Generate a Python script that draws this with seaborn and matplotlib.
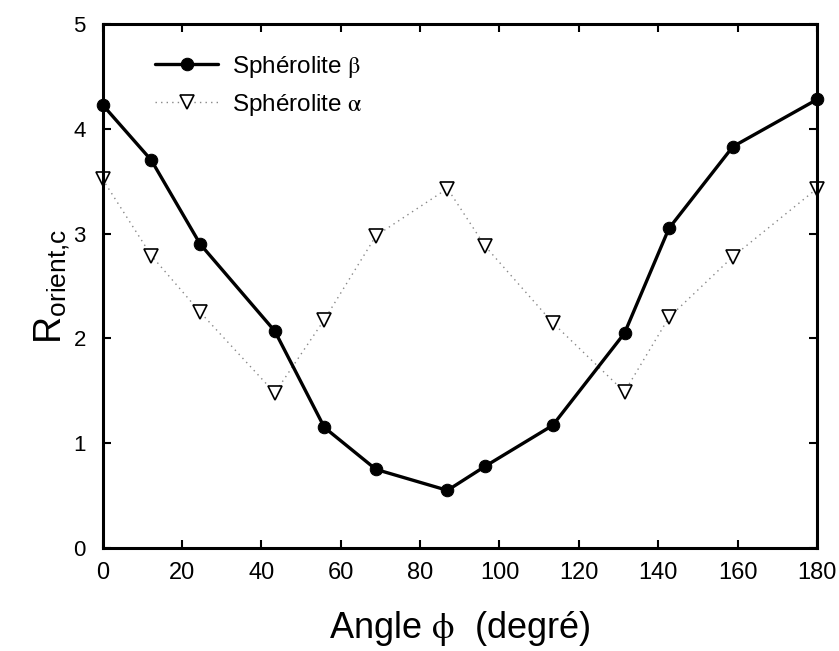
import matplotlib
matplotlib.use("Agg")
import matplotlib.pyplot as plt
import seaborn as sns
import pandas as pd

angles = [0, 12.3, 24.6, 43.4, 55.9, 68.9, 86.9, 96.4, 113.4, 131.5, 142.7, 158.8, 180]
beta_vals = [4.23, 3.70, 2.90, 2.07, 1.15, 0.75, 0.55, 0.78, 1.17, 2.05, 3.05, 3.83, 4.28]
alpha_vals = [3.52, 2.79, 2.25, 1.48, 2.18, 2.98, 3.43, 2.88, 2.15, 1.49, 2.20, 2.78, 3.43]
series_names = [r"Sphérolite $\mathrm{\beta}$", r"Sphérolite $\mathrm{\alpha}$"]
x_ticks = [0, 20, 40, 60, 80, 100, 120, 140, 160, 180]
y_ticks = [0, 1, 2, 3, 4, 5]

sns.set_style("ticks")
plt.rcParams['font.family'] = ['Liberation Sans', 'DejaVu Sans']
plt.rcParams['mathtext.fontset'] = 'stix'
plt.rcParams['text.color'] = 'black'
plt.rcParams['axes.labelcolor'] = 'black'

fig = plt.figure(figsize=(8.39, 6.51), dpi=100)
ax = fig.add_axes([0.1222, 0.1582, 0.8516, 0.8049])

df_b = pd.DataFrame({"x": angles, "y": beta_vals})
df_a = pd.DataFrame({"x": angles, "y": alpha_vals})

sns.lineplot(data=df_b, x="x", y="y", ax=ax, color="black", linewidth=2.4,
             marker="o", markersize=9, markeredgecolor="black", label=series_names[0],
             clip_on=False, zorder=3)
sns.lineplot(data=df_a, x="x", y="y", ax=ax, color="#888888", linewidth=1.0,
             linestyle=(0, (1, 3)), marker="v", markersize=10, markerfacecolor="white",
             markeredgecolor="black", markeredgewidth=1.2, label=series_names[1],
             clip_on=False, zorder=2)

ax.set_xlim(0, 180)
ax.set_ylim(0, 5)
ax.set_xticks(x_ticks)
ax.set_yticks(y_ticks)
ax.tick_params(direction="in", length=6, width=1.5, top=True, right=True,
               colors="black", labelcolor="black")
ax.tick_params(axis="x", labelsize=17, pad=10)
ax.tick_params(axis="y", labelsize=16, pad=12)
for lab in ax.get_xticklabels():
    lab.set_family(['Liberation Sans Narrow', 'Liberation Sans'])
for sp in ax.spines.values():
    sp.set_visible(True)
    sp.set_linewidth(2.2)
    sp.set_color("black")

ax.set_xlabel(r"Angle $\mathrm{\phi}$  (degré)", fontsize=26, labelpad=18)
ax.set_ylabel(r"R$_{\mathregular{orient{,}c}}$", fontsize=27, labelpad=1)

leg = ax.legend(loc="upper left", bbox_to_anchor=(0.043, 0.985), frameon=False,
                fontsize=17.5, handlelength=2.6, handletextpad=0.55, labelspacing=0.5)

fig.savefig("out.png", dpi=100)
